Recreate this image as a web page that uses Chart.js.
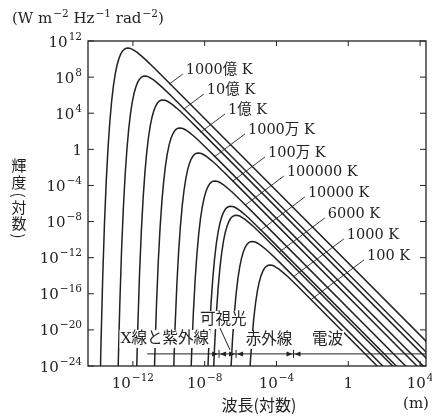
<!DOCTYPE html>
<html><head><meta charset="utf-8">
<style>html,body{margin:0;padding:0;background:#fff;}canvas{display:block;}</style>
<script src="https://cdn.jsdelivr.net/npm/chart.js@4.4.1/dist/chart.umd.min.js"></script>
</head><body>
<canvas id="c" width="432" height="416"></canvas>
<script>
// All values are log10: [log10(wavelength / m), log10(radiance / W m^-2 Hz^-1 rad^-2)]
const curveLabels = ['1000億 K','10億 K','1億 K','1000万 K','100万 K','100000 K','10000 K','6000 K','1000 K','100 K'];
const curveT1e11 = [[-13.88,-31.58],[-13.78,-21.78],[-13.68,-14.18],[-13.58,-8.08],[-13.48,-3.38],[-13.38,0.32],[-13.28,3.17],[-13.18,5.39],[-13.08,7.09],[-12.98,8.38],[-12.88,9.34],[-12.78,10.04],[-12.68,10.54],[-12.58,10.88],[-12.48,11.08],[-12.38,11.19],[-12.28,11.22],[-12.18,11.19],[-12.08,11.13],[-11.98,11.02],[-11.78,10.76],[-11.53,10.35],[-11.28,9.91],[-10.78,8.95],[-10.28,7.96],[4.5,-21.59]];
const curveT1e9 = [[-12.83,-24.88],[-12.73,-17.28],[-12.63,-11.18],[-12.53,-6.48],[-12.43,-2.78],[-12.33,0.07],[-12.23,2.29],[-12.13,3.99],[-12.03,5.28],[-11.93,6.24],[-11.83,6.94],[-11.73,7.44],[-11.63,7.78],[-11.53,7.98],[-11.43,8.09],[-11.33,8.12],[-11.23,8.09],[-11.13,8.03],[-11.03,7.92],[-10.83,7.66],[-10.58,7.25],[-10.33,6.81],[-9.83,5.85],[-9.33,4.86],[4.5,-22.79]];
const curveT1e8 = [[-11.83,-27.53],[-11.73,-19.93],[-11.63,-13.83],[-11.53,-9.13],[-11.43,-5.43],[-11.33,-2.58],[-11.23,-0.36],[-11.13,1.34],[-11.03,2.63],[-10.93,3.59],[-10.83,4.29],[-10.73,4.79],[-10.63,5.13],[-10.53,5.33],[-10.43,5.44],[-10.33,5.47],[-10.23,5.44],[-10.13,5.38],[-10.03,5.27],[-9.83,5.01],[-9.58,4.60],[-9.33,4.16],[-8.83,3.20],[-8.33,2.21],[4.5,-23.44]];
const curveT1e7 = [[-10.88,-30.63],[-10.78,-23.03],[-10.68,-16.93],[-10.58,-12.23],[-10.48,-8.53],[-10.38,-5.68],[-10.28,-3.46],[-10.18,-1.76],[-10.08,-0.47],[-9.98,0.49],[-9.88,1.19],[-9.78,1.69],[-9.68,2.03],[-9.58,2.23],[-9.48,2.34],[-9.38,2.37],[-9.28,2.34],[-9.18,2.28],[-9.08,2.17],[-8.88,1.91],[-8.63,1.50],[-8.38,1.06],[-7.88,0.10],[-7.38,-0.89],[4.5,-24.64]];
const curveT1e6 = [[-9.75,-25.80],[-9.65,-19.70],[-9.55,-15.00],[-9.45,-11.30],[-9.35,-8.45],[-9.25,-6.23],[-9.15,-4.53],[-9.05,-3.24],[-8.95,-2.28],[-8.85,-1.58],[-8.75,-1.08],[-8.65,-0.74],[-8.55,-0.54],[-8.45,-0.43],[-8.35,-0.40],[-8.25,-0.43],[-8.15,-0.49],[-8.05,-0.60],[-7.85,-0.86],[-7.60,-1.27],[-7.35,-1.71],[-6.85,-2.67],[-6.35,-3.66],[4.5,-25.35]];
const curveT1e5 = [[-8.83,-28.90],[-8.73,-22.80],[-8.63,-18.10],[-8.53,-14.40],[-8.43,-11.55],[-8.33,-9.33],[-8.23,-7.63],[-8.13,-6.34],[-8.03,-5.38],[-7.93,-4.68],[-7.83,-4.18],[-7.73,-3.84],[-7.63,-3.64],[-7.53,-3.53],[-7.43,-3.50],[-7.33,-3.53],[-7.23,-3.59],[-7.13,-3.70],[-6.93,-3.96],[-6.68,-4.37],[-6.43,-4.81],[-5.93,-5.77],[-5.43,-6.76],[4.5,-26.61]];
const curveT1e4 = [[-7.85,-25.60],[-7.75,-20.90],[-7.65,-17.20],[-7.55,-14.35],[-7.45,-12.13],[-7.35,-10.43],[-7.25,-9.14],[-7.15,-8.18],[-7.05,-7.48],[-6.95,-6.98],[-6.85,-6.64],[-6.75,-6.44],[-6.65,-6.33],[-6.55,-6.30],[-6.45,-6.33],[-6.35,-6.39],[-6.25,-6.50],[-6.05,-6.76],[-5.80,-7.17],[-5.55,-7.61],[-5.05,-8.57],[-4.55,-9.56],[4.5,-27.65]];
const curveT6000 = [[-7.55,-26.60],[-7.45,-21.90],[-7.35,-18.20],[-7.25,-15.35],[-7.15,-13.13],[-7.05,-11.43],[-6.95,-10.14],[-6.85,-9.18],[-6.75,-8.48],[-6.65,-7.98],[-6.55,-7.64],[-6.45,-7.44],[-6.35,-7.33],[-6.25,-7.30],[-6.15,-7.33],[-6.05,-7.39],[-5.95,-7.50],[-5.75,-7.76],[-5.50,-8.17],[-5.25,-8.61],[-4.75,-9.57],[-4.25,-10.56],[4.5,-28.05]];
const curveT1000 = [[-6.55,-24.80],[-6.45,-21.10],[-6.35,-18.25],[-6.25,-16.03],[-6.15,-14.33],[-6.05,-13.04],[-5.95,-12.08],[-5.85,-11.38],[-5.75,-10.88],[-5.65,-10.54],[-5.55,-10.34],[-5.45,-10.23],[-5.35,-10.20],[-5.25,-10.23],[-5.15,-10.29],[-5.05,-10.40],[-4.85,-10.66],[-4.60,-11.07],[-4.35,-11.51],[-3.85,-12.47],[-3.35,-13.46],[4.5,-29.15]];
const curveT100 = [[-5.56,-27.41],[-5.46,-23.71],[-5.36,-20.86],[-5.26,-18.64],[-5.16,-16.94],[-5.06,-15.65],[-4.96,-14.69],[-4.86,-13.99],[-4.76,-13.49],[-4.66,-13.15],[-4.56,-12.95],[-4.46,-12.84],[-4.36,-12.81],[-4.26,-12.84],[-4.16,-12.90],[-4.06,-13.01],[-3.86,-13.27],[-3.61,-13.68],[-3.36,-14.12],[-2.86,-15.08],[-2.36,-16.07],[4.5,-29.78]];
const xTickExps = [-12, -8, -4, 0, 4];
const yTickExps = [12, 8, 4, 0, -4, -8, -12, -16, -20, -24];
const bandNames = ['X線と紫外線', '可視光', '赤外線', '電波'];
const bandBounds = [-7.2, -6.25, -3.05];   // log10 wavelength of region boundaries

const series = [curveT1e11, curveT1e9, curveT1e8, curveT1e7, curveT1e6, curveT1e5, curveT1e4, curveT6000, curveT1000, curveT100];

const INK = '#222222';
const SERIF = '"DejaVu Serif", "Noto Sans CJK JP", serif';
const CJK = '"Noto Sans CJK JP", sans-serif';

// annotation layout (data coordinates)
const labelAnchor = [[-9.05,8.79],[-7.88,6.57],[-6.70,4.36],[-5.59,2.14],[-4.47,-0.40],[-3.42,-2.51],[-2.25,-4.83],[-1.14,-7.16],[-0.08,-9.48],[1.04,-11.81]];
const leaderEnd = [[-9.97,7.23],[-9.17,4.45],[-8.22,1.90],[-7.45,-0.82],[-6.44,-3.53],[-5.75,-6.19],[-4.88,-8.96],[-3.85,-11.40],[-3.05,-14.10],[-2.07,-16.65]];
const bandTextPos = [[-10.22,-21.0],[-6.96,-18.9],[-4.42,-21.11],[-1.16,-21.11]];
const bandLevel = -22.66, bandStart = -11.2;

function powLabel(ctx, exp, x, yMid, align) {
  const base = exp === 0 ? '1' : '10';
  const sup = exp === 0 ? '' : (exp < 0 ? '\u2212' + (-exp) : String(exp));
  ctx.font = '15px ' + SERIF; const wb = ctx.measureText(base).width;
  ctx.font = '10.5px ' + SERIF; const ws = sup ? ctx.measureText(sup).width + 1 : 0;
  const tot = wb + ws;
  const x0 = align === 'right' ? x - tot : align === 'center' ? x - tot / 2 : x;
  ctx.textAlign = 'left'; ctx.textBaseline = 'alphabetic'; ctx.fillStyle = INK;
  ctx.font = '15px ' + SERIF; ctx.fillText(base, x0, yMid + 5.5);
  if (sup) { ctx.font = '10.5px ' + SERIF; ctx.fillText(sup, x0 + wb + 1, yMid - 1.5); }
}

function seg(ctx, x1, y1, x2, y2) { ctx.beginPath(); ctx.moveTo(x1, y1); ctx.lineTo(x2, y2); ctx.stroke(); }

const decor = {
  id: 'decor',
  afterDatasetsDraw(chart) {
    const { ctx, chartArea: a, scales: { x, y } } = chart;
    const X = v => x.getPixelForValue(v), Y = v => y.getPixelForValue(v);
    ctx.save();
    ctx.strokeStyle = INK; ctx.fillStyle = INK; ctx.lineWidth = 1.3;
    ctx.strokeRect(a.left, a.top, a.right - a.left, a.bottom - a.top);
    ctx.lineWidth = 1;
    xTickExps.forEach(e => { const p = X(e); seg(ctx, p, a.bottom, p, a.bottom - 5); seg(ctx, p, a.top, p, a.top + 5); });
    yTickExps.forEach(e => { const p = Y(e); seg(ctx, a.left, p, a.left + 6, p); seg(ctx, a.right, p, a.right - 6, p); });
    yTickExps.forEach(e => powLabel(ctx, e, a.left - 6, Y(e), 'right'));
    xTickExps.forEach(e => powLabel(ctx, e, X(e), a.bottom + 16, 'center'));
    let ux = 12; const ub = 23;
    [['(W m', 0], ['\u22122', 1], [' Hz', 0], ['\u22121', 1], [' rad', 0], ['\u22122', 1], [')', 0]].forEach(([t, s]) => {
      ctx.font = (s ? '10.5px ' : '15px ') + SERIF; ctx.textAlign = 'left'; ctx.textBaseline = 'alphabetic';
      ctx.fillText(t, ux + (s ? 1 : 0), s ? ub - 6 : ub); ux += ctx.measureText(t).width + (s ? 1 : 0);
    });
    ctx.font = '16px ' + CJK; ctx.textAlign = 'center'; ctx.textBaseline = 'middle';
    ctx.fillText('波長(対数)', 259, 405);
    ctx.font = '15px ' + SERIF; ctx.fillText('(m)', 416, 404);
    const vchars = [['輝', 165], ['度', 182], ['(', 195], ['対', 207], ['数', 223], [')', 236]];
    vchars.forEach(([c, yy]) => {
      if (c === '(' || c === ')') {
        ctx.save(); ctx.translate(19, yy); ctx.rotate(Math.PI / 2); ctx.font = '15px ' + CJK; ctx.fillText(c, 0, 0); ctx.restore();
      } else { ctx.font = '15px ' + CJK; ctx.fillText(c, 19, yy); }
    });
    ctx.lineWidth = 0.9;
    curveLabels.forEach((t, i) => {
      const lx = X(labelAnchor[i][0]), ly = Y(labelAnchor[i][1]);
      ctx.font = '14.5px ' + SERIF; ctx.textAlign = 'left'; ctx.textBaseline = 'middle';
      ctx.fillText(t, lx, ly);
      seg(ctx, lx - 3, ly + 4, X(leaderEnd[i][0]), Y(leaderEnd[i][1]));
    });
    const by = Y(bandLevel);
    ctx.lineWidth = 1;
    seg(ctx, X(bandStart), by, a.right, by);
    bandBounds.forEach(b => {
      const p = X(b);
      seg(ctx, p, by - 4, p, by + 4);
      ctx.beginPath(); ctx.moveTo(p - 1, by); ctx.lineTo(p - 7, by - 2.5); ctx.lineTo(p - 7, by + 2.5); ctx.closePath(); ctx.fill();
      ctx.beginPath(); ctx.moveTo(p + 1, by); ctx.lineTo(p + 7, by - 2.5); ctx.lineTo(p + 7, by + 2.5); ctx.closePath(); ctx.fill();
    });
    bandNames.forEach((t, i) => {
      const cx = X(bandTextPos[i][0]), cy = Y(bandTextPos[i][1]);
      ctx.font = '15.5px ' + SERIF; const w = ctx.measureText(t).width;
      ctx.fillStyle = '#fff'; ctx.fillRect(cx - w / 2 - 1, cy - 9, w + 2, 18);
      ctx.fillStyle = INK; ctx.textAlign = 'center'; ctx.textBaseline = 'middle'; ctx.fillText(t, cx, cy);
    });
    seg(ctx, X(-7.15), Y(-19.78), X(-6.59), Y(-22.22));
    ctx.restore();
  }
};

new Chart(document.getElementById('c'), {
  type: 'scatter',
  data: {
    datasets: series.map((s, i) => ({
      label: curveLabels[i],
      data: s.map(p => ({ x: p[0], y: p[1] })),
      showLine: true, borderColor: INK, borderWidth: 1.5, pointRadius: 0, tension: 0, fill: false
    }))
  },
  options: {
    responsive: false, animation: false, devicePixelRatio: 1,
    layout: { padding: { left: 88, right: 6, top: 41, bottom: 50 } },
    plugins: { legend: { display: false }, tooltip: { enabled: false } },
    scales: {
      x: { type: 'linear', display: false, min: -14.5, max: 4.33 },
      y: { type: 'linear', display: false, min: -24, max: 12 }
    }
  },
  plugins: [decor]
});
</script>
</body></html>
